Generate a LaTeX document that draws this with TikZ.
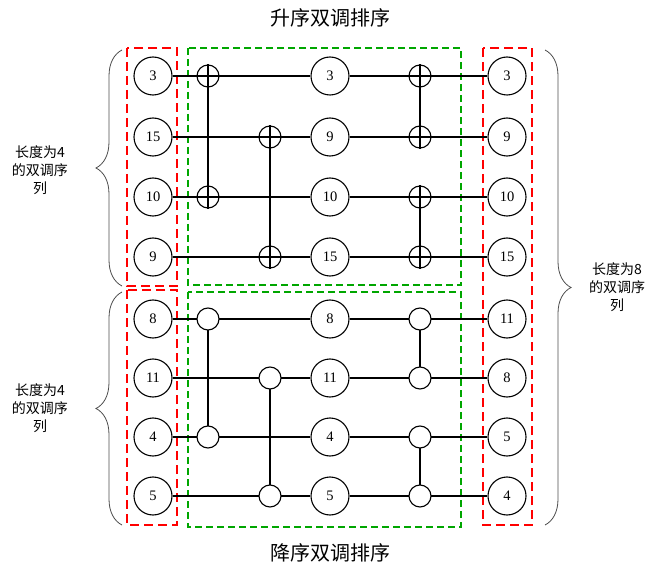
\documentclass[tikz,border=0pt]{standalone}
\usepackage{fontspec}
\setmainfont{Liberation Serif}
\newfontfamily\cjk{Noto Sans CJK SC}
\usetikzlibrary{decorations.pathreplacing}
\begin{document}
\begin{tikzpicture}[x=1pt,y=-1pt,
  val/.style={circle,draw,line width=1.1pt,minimum size=38pt,inner sep=0pt,font=\fontsize{14.5}{14.5}\selectfont},
  cmp/.style={circle,draw,line width=1.1pt,minimum size=22pt,inner sep=0pt},
  cmpw/.style={cmp,fill=white},
  wire/.style={line width=1.3pt},
  redbox/.style={draw=red,dashed,line width=1.6pt,dash pattern=on 9pt off 5pt},
  greenbox/.style={draw=green!65!black,dashed,line width=1.1pt,dash pattern=on 7pt off 4pt},
  br/.style={draw=gray!60!black,line width=0.8pt,decorate,decoration={brace,amplitude=26pt}},
  lab/.style={font=\cjk\fontsize{14}{18}\selectfont,align=center},
  ttl/.style={font=\cjk\fontsize{20}{20}\selectfont}]
\useasboundingbox (0,0) rectangle (659,580);
\node[ttl] (t1) at (330,18) {升序双调排序};
\node[ttl] (t2) at (330,553) {降序双调排序};
\draw[redbox] (127,48) rectangle (177,286);
\draw[redbox] (127,290) rectangle (177,525);
\draw[redbox] (483,48) rectangle (532,525);
\draw[greenbox] (188,48) rectangle (461,285);
\draw[greenbox] (188,292) rectangle (461,527);
\draw[br] (122,286) -- (122,50);
\draw[br] (122,525) -- (122,292);
\draw[br] (545,50) -- (545,525);
\node[lab] (la) at (40,170) {长度为4\\的双调序\\列};
\node[lab] (lb) at (40,408) {长度为4\\的双调序\\列};
\node[lab] (lc) at (617,287) {长度为8\\的双调序\\列};
\foreach \i/\y/\a/\b/\c in {1/76/3/3/3,2/137/15/9/9,3/197/10/10/10,4/257/9/15/15,5/319/8/8/11,6/378/11/11/8,7/437/4/4/5,8/496/5/5/4}{
  \node[val] (l\i) at (153,\y) {\a};
  \node[val] (m\i) at (330,\y) {\b};
  \node[val] (r\i) at (507,\y) {\c};
}
\foreach \i/\y in {1/76,2/137,3/197,4/257,5/319,6/378,7/437,8/496}{
  \coordinate (a\i) at (208,\y);
  \coordinate (b\i) at (270,\y);
  \coordinate (c\i) at (420,\y);
}
\foreach \i in {1,...,8}{
  \draw[wire] (l\i) -- (m\i);
  \draw[wire] (m\i) -- (r\i);
}
\draw[wire] (a1) -- (a3);
\draw[wire] (b2) -- (b4);
\draw[wire] (c1) -- (c2);
\draw[wire] (c3) -- (c4);
\foreach \i in {1,3}{\node[cmp] (p\i) at (a\i) {};}
\foreach \i in {2,4}{\node[cmp] (q\i) at (b\i) {};}
\foreach \i in {1,2,3,4}{\node[cmp] (s\i) at (c\i) {};}
\draw[wire] (p1.north) -- (p1.south);
\draw[wire] (p3.north) -- (p3.south);
\draw[wire] (q2.north) -- (q2.south);
\draw[wire] (q4.north) -- (q4.south);
\foreach \i in {1,...,4}{\draw[wire] (s\i.north) -- (s\i.south);}
\draw[wire] (a5) -- (a7);
\draw[wire] (b6) -- (b8);
\draw[wire] (c5) -- (c6);
\draw[wire] (c7) -- (c8);
\foreach \i in {5,7}{\node[cmpw] (p\i) at (a\i) {};}
\foreach \i in {6,8}{\node[cmpw] (q\i) at (b\i) {};}
\foreach \i in {5,...,8}{\node[cmpw] (s\i) at (c\i) {};}
\end{tikzpicture}
\end{document}
